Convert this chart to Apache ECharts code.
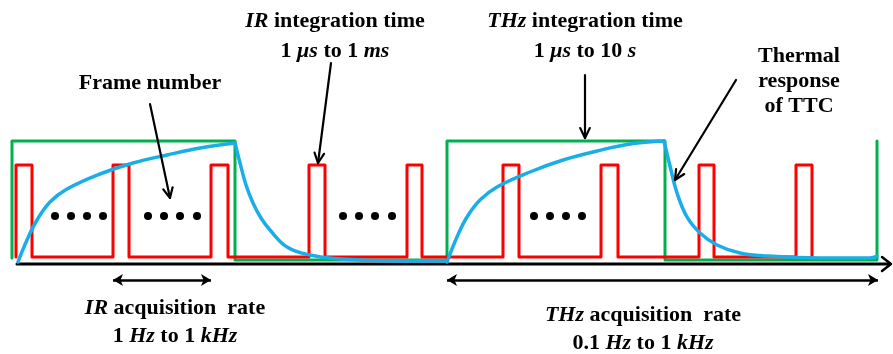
<!DOCTYPE html>
<html><head><meta charset="utf-8">
<script src="https://cdn.jsdelivr.net/npm/echarts@6/dist/echarts.min.js"></script>
<style>html,body{margin:0;padding:0;background:#fff}#c{width:893px;height:354px}</style>
</head><body><div id="c"></div>
<script>
// ---- data (drawing units = reference pixel grid, y grows downward) ----
const greenX = [12, 12, 235, 235, 447, 447, 665, 665, 877, 877];
const greenY = [258, 141, 141, 260, 260, 141, 141, 260, 260, 141];

const redRise = [16, 113, 211, 309, 407, 503, 601, 699, 796];
const redFall = [32, 129, 228, 325, 422, 519, 618, 714, 812];
const redLow = 257, redHigh = 165;

// thermal response (TTC), four segments
const blueRise1X = [18, 27, 37, 50, 67, 100, 133, 167, 200, 235];
const blueRise1Y = [262, 240, 220, 202, 189, 174, 163, 155, 148, 143];
const blueDecay1X = [235, 240, 246, 253, 261, 270, 287, 310, 340, 400, 447];
const blueDecay1Y = [143, 163, 185, 203, 218, 230, 247, 255, 259, 261, 261];
const blueRise2X = [447, 457, 467, 480, 497, 530, 563, 597, 630, 664];
const blueRise2Y = [262, 237, 217, 200, 187, 172, 160, 151, 144, 141];
const blueDecay2X = [664, 670, 677, 687, 700, 717, 740, 767, 820, 870, 877];
const blueDecay2Y = [141, 166, 193, 217, 233, 245, 253, 256, 258, 258, 256];

const axisX = [17, 889];
const axisY = 264;

const dotX = [55, 71, 87, 103, 148, 164, 180, 197, 343, 359, 375, 392, 534, 550, 566, 582];
const dotY = 216;

// annotation arrows: [startX, startY, endX, endY]
const arrowFrame = [150, 104, 170, 198];
const arrowIR = [331, 63, 318, 163];
const arrowTHz = [585, 75, 585, 138];
const arrowTTC = [736, 80, 675, 180];

// double arrows (acquisition rates): [x1, x2, y]
const spanIR = [113, 211, 280];
const spanTHz = [447, 878, 280];

// labels: text, centre x, centre y, line height
const labelTexts = [
  'Frame number',
  '{i|IR} integration time\n1 {i|μs} to 1 {i|ms}',
  '{i|THz} integration time\n1 {i|μs} to 10 {i|s}',
  'Thermal\nresponse\nof TTC',
  '{i|IR} acquisition  rate\n1 {i|Hz} to 1 {i|kHz}',
  '{i|THz} acquisition  rate\n0.1 {i|Hz} to 1 {i|kHz}'
];
const labelX = [150, 335, 585, 799, 175, 643];
const labelY = [83, 36, 36, 81, 322, 329];
const labelLH = [30, 30, 30, 25, 28, 28];

// ---- build ----
const pairs = (xs, ys) => xs.map((x, i) => [x, ys[i]]);
const greenData = pairs(greenX, greenY);
const redData = [];
redRise.forEach((r, i) => {
  redData.push([r, redLow], [r, redHigh], [redFall[i], redHigh], [redFall[i], redLow]);
});

function lineSeries(data, color, width, z, smooth) {
  return { type: 'line', data, symbol: 'none', z: z || 2, silent: true, animation: false,
    smooth: smooth || false,
    lineStyle: { color, width, join: 'round', cap: 'round' } };
}
function arrowSeries(a) {
  const [x1, y1, x2, y2] = a;
  const dx = x2 - x1, dy = y2 - y1, len = Math.hypot(dx, dy);
  const ux = dx / len, uy = dy / len, L = 11, th = 0.45;
  const rot = (t) => [x2 - L * (ux * Math.cos(t) - uy * Math.sin(t)), y2 - L * (ux * Math.sin(t) + uy * Math.cos(t))];
  return [
    lineSeries([[x1, y1], [x2, y2]], '#000', 2.2, 5),
    lineSeries([rot(th), [x2, y2], rot(-th)], '#000', 2.2, 5)
  ];
}

const series = [];
const axisS = lineSeries([[axisX[0], axisY], [axisX[1], axisY]], '#000', 3, 1);
axisS.markLine = {
  silent: true, symbol: ['arrow', 'arrow'], symbolSize: [9, 10], label: { show: false },
  lineStyle: { color: '#000', width: 2.5, type: 'solid' }, animation: false,
  data: [
    [{ coord: [spanIR[0], spanIR[2]] }, { coord: [spanIR[1], spanIR[2]] }],
    [{ coord: [spanTHz[0], spanTHz[2]] }, { coord: [spanTHz[1], spanTHz[2]] }]
  ]
};
series.push(axisS);
series.push(lineSeries([[axisX[1] - 7, axisY - 7], [axisX[1] + 2, axisY], [axisX[1] - 7, axisY + 7]], '#000', 2.5, 1));
series.push(lineSeries(greenData, '#00b050', 3, 2));
series.push(lineSeries(redData, '#ff0000', 3, 3));
[[blueRise1X, blueRise1Y], [blueDecay1X, blueDecay1Y], [blueRise2X, blueRise2Y], [blueDecay2X, blueDecay2Y]]
  .forEach(([xs, ys]) => series.push(lineSeries(pairs(xs, ys), '#1aaee8', 3.5, 4, 0.4)));
[arrowFrame, arrowIR, arrowTHz, arrowTTC].forEach(a => series.push(...arrowSeries(a)));
series.push({ type: 'scatter', symbol: 'circle', symbolSize: 8, itemStyle: { color: '#000', opacity: 1 },
  silent: true, animation: false, z: 5, data: dotX.map(x => [x, dotY]) });
series.push({ type: 'scatter', symbolSize: 0, silent: true, animation: false, z: 6,
  itemStyle: { opacity: 1 },
  data: labelTexts.map((t, i) => ({ value: [labelX[i], labelY[i]],
    label: { formatter: t, lineHeight: labelLH[i] } })),
  label: { show: true, position: [0, 0], align: 'center', verticalAlign: 'middle',
    fontFamily: 'Liberation Serif', fontWeight: 'bold', fontSize: 22, color: '#000', opacity: 1,
    rich: { i: { fontFamily: 'Liberation Serif', fontWeight: 'bold', fontStyle: 'italic', fontSize: 22, color: '#000' } } }
});

const chart = echarts.init(document.getElementById('c'), null, { renderer: 'canvas' });
chart.setOption({
  animation: false,
  grid: { left: 0, right: 0, top: 0, bottom: 0 },
  xAxis: { type: 'value', min: 0, max: 893, show: false },
  yAxis: { type: 'value', min: 0, max: 354, inverse: true, show: false },
  series
});
</script></body></html>
